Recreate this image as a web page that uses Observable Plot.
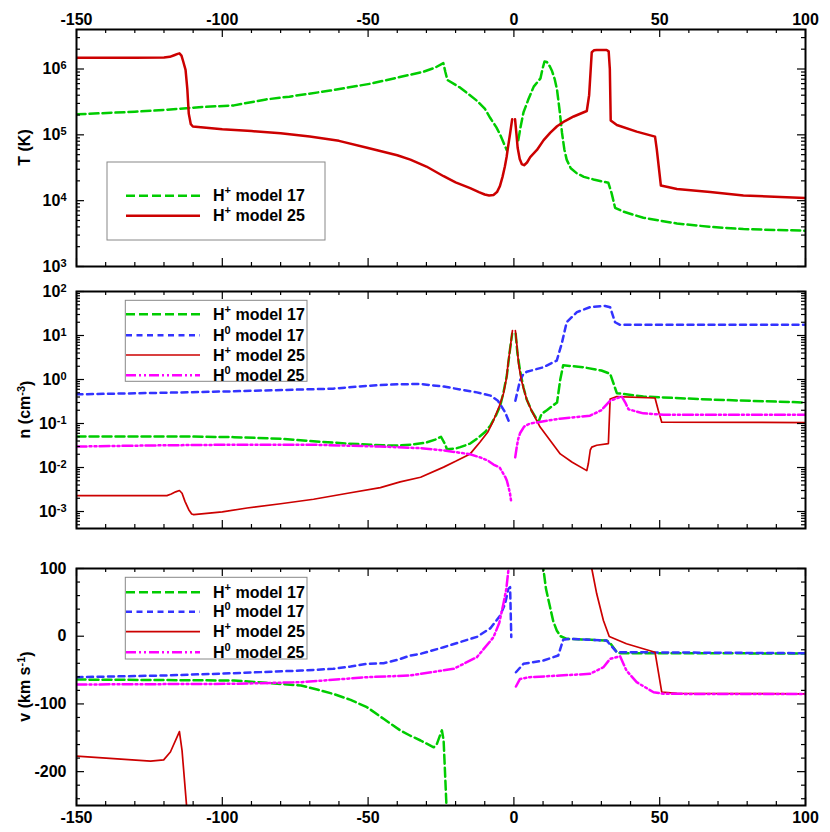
<!DOCTYPE html>
<html><head><meta charset="utf-8">
<script src="https://cdn.jsdelivr.net/npm/d3@7"></script>
<script src="https://cdn.jsdelivr.net/npm/@observablehq/plot@0.6"></script>
<style>body{margin:0;background:#fff} #chart svg{display:block}</style>
</head><body><div id="chart"></div>
<script>
// ---------- data (x = distance, y = value; [0, NaN] marks a gap) ----------
const T_HP17 = [[-150,2.05e5],[-130,2.24e5],[-119,2.4e5],[-108,2.63e5],[-96,2.8e5],[-85,3.45e5],[-77,3.8e5],[-63,4.7e5],[-49,6.0e5],[-40,7.4e5],[-31,9.1e5],[-27,1.05e6],[-24.2,1.23e6],[-23.5,9e5],[-22.8,6.8e5],[-18.4,5.2e5],[-12.7,3.3e5],[-10,2.5e5],[-8.1,1.8e5],[-6,1.3e5],[-4.7,1.0e5],[-3.5,7.5e4],[-2.4,5.8e4],[0,NaN],[1.5,8.3e4],[2.4,1.4e5],[3.3,2.2e5],[4.9,3.4e5],[6.8,5.4e5],[9.1,7.2e5],[9.8,1.0e6],[10.5,1.3e6],[11.3,1.28e6],[12.3,1.1e6],[13.0,9.5e5],[14,7e5],[14.8,4.8e5],[15.7,2.3e5],[16.5,1.07e5],[17.3,6e4],[18.1,4.2e4],[19.5,3.1e4],[21.6,2.6e4],[24,2.3e4],[27.3,2.1e4],[32.4,1.87e4],[33.5,1.3e4],[34.7,7.8e3],[37.6,6.8e3],[44.4,5.5e3],[55.9,4.5e3],[67.3,4.0e3],[78.7,3.7e3],[100,3.5e3]];
const T_HP25 = [[-150,1.48e6],[-130,1.48e6],[-120,1.49e6],[-118,1.53e6],[-116.5,1.62e6],[-115.3,1.70e6],[-114.7,1.73e6],[-114,1.6e6],[-113.4,1.3e6],[-112.6,9.7e5],[-112,5e5],[-111.5,2.1e5],[-110.8,1.45e5],[-110.1,1.34e5],[-100,1.22e5],[-90,1.14e5],[-80,1.06e5],[-70,9.4e4],[-60,8.1e4],[-50,6.3e4],[-40,4.9e4],[-35.5,4.2e4],[-30,3.3e4],[-24.1,2.35e4],[-20,1.9e4],[-15,1.55e4],[-12,1.35e4],[-10,1.24e4],[-8.5,1.2e4],[-7,1.22e4],[-5.8,1.35e4],[-4.8,1.66e4],[-3.9,2.3e4],[-3.1,3.3e4],[-2.5,4.6e4],[-2,6.6e4],[-1.3,1.05e5],[-0.6,1.72e5],[0,NaN],[0.4,1.72e5],[0.9,1.0e5],[1.3,6.3e4],[2,4.3e4],[2.7,3.6e4],[3.5,3.45e4],[4.5,3.8e4],[5.6,4.6e4],[7.9,5.9e4],[10.2,8.3e4],[12.5,1.08e5],[14.8,1.35e5],[17.5,1.62e5],[20.5,1.9e5],[25.0,2.3e5],[25.8,4e5],[26.7,1.8e6],[27.5,1.92e6],[28.4,1.95e6],[31.8,1.94e6],[32.5,1.85e6],[32.9,1.0e6],[33.2,1.65e5],[35.3,1.41e5],[42.1,1.12e5],[48.4,9.4e4],[49.0,6.0e4],[50.4,1.7e4],[55.9,1.5e4],[67.3,1.35e4],[78.7,1.2e4],[100,1.1e4]];

const N_HP17 = [[-150,0.051],[-116,0.051],[-96,0.049],[-80,0.045],[-70,0.040],[-57,0.035],[-45,0.032],[-40,0.0315],[-35,0.033],[-30,0.037],[-27,0.043],[-25,0.05],[-23.5,0.033],[-23,0.026],[-20,0.027],[-18.4,0.029],[-15,0.035],[-12.7,0.045],[-10,0.063],[-8.1,0.089],[-6,0.16],[-4.7,0.25],[-3.6,0.5],[-2.4,1.26],[-1.5,4],[-0.6,11],[0,NaN],[0.6,11],[1.2,4],[2.1,1.6],[3.3,0.65],[4.4,0.35],[6,0.2],[8.4,0.107],[9.5,0.166],[11.3,0.2],[13.5,0.26],[14.8,0.3],[15.9,1.0],[16.9,2.1],[23.8,1.9],[30,1.6],[33,1.35],[34.2,0.8],[35.3,0.49],[44.4,0.41],[67.3,0.35],[100,0.30]];
const N_H017 = [[-150,0.46],[-120,0.50],[-96,0.54],[-62,0.62],[-50,0.72],[-40,0.78],[-32,0.79],[-24,0.69],[-12.7,0.51],[-8,0.43],[-5.5,0.33],[-3.0,0.18],[-1.3,0.095],[0,NaN],[0.5,0.33],[2.1,0.95],[3.3,1.35],[4.4,1.5],[10.1,1.9],[14.7,2.7],[16.4,6.5],[18.1,20],[21.6,34],[26.1,44],[31.3,47],[33.0,44],[34.7,20],[36.4,17.5],[100,17.5]];
const N_HP25 = [[-150,0.0023],[-119,0.0023],[-117.5,0.0025],[-116,0.0028],[-114.7,0.003],[-113.8,0.0026],[-112.8,0.0017],[-111.5,0.0011],[-110.5,0.00088],[-109.8,0.00085],[-100,0.00098],[-91.5,0.0012],[-80,0.0015],[-68.7,0.0019],[-57,0.0026],[-45.8,0.0035],[-39,0.0047],[-32,0.006],[-24.1,0.0102],[-20,0.0138],[-15,0.0204],[-11.6,0.038],[-9,0.063],[-7,0.117],[-5,0.25],[-3.6,0.47],[-2.5,1.1],[-2,2.3],[-1.3,5],[-0.5,13],[0,NaN],[0.5,13],[1,6.3],[1.6,2.3],[2.5,1.0],[3.3,0.63],[4.4,0.35],[6,0.2],[9,0.083],[12,0.045],[15.9,0.0204],[20,0.0132],[25,0.0085],[25.5,0.012],[26.2,0.025],[26.7,0.029],[28.4,0.032],[32.4,0.035],[33,0.36],[35.3,0.41],[48.4,0.38],[49.5,0.2],[50.7,0.107],[100,0.105]];
const N_H025 = [[-150,0.030],[-120,0.032],[-96,0.033],[-69,0.033],[-46,0.030],[-32,0.0275],[-24,0.0245],[-15,0.020],[-11.6,0.017],[-9,0.0145],[-7,0.0117],[-5.5,0.0105],[-4.8,0.0098],[-3.6,0.0072],[-2.8,0.0058],[-2.4,0.005],[-1.8,0.0035],[-1.3,0.0025],[-1.0,0.0018],[0,NaN],[0.45,0.017],[1,0.03],[1.5,0.045],[2.1,0.06],[3.5,0.085],[5.5,0.1],[15.8,0.129],[26.1,0.151],[30,0.2],[33,0.33],[37,0.41],[38.2,0.3],[39.3,0.21],[44.4,0.17],[51.3,0.158],[100,0.158]];

const V_HP17 = [[-150,-64],[-96,-65.4],[-85,-68.9],[-73,-72.8],[-67.5,-78.7],[-62,-85.1],[-56,-94],[-50.4,-104.8],[-44.7,-122],[-39,-139],[-35.5,-147],[-32,-154],[-27.5,-164],[-26.4,-159],[-24.7,-139],[-24.1,-154],[-23.2,-243],[-22.8,-300],[0,NaN],[9.5,130],[10.1,100],[11,70],[12.4,43],[13.5,22],[14.7,8.4],[16,0],[18.1,-3.9],[25,-5],[31.8,-6.4],[33,-10],[35.3,-23.6],[36.5,-25],[100,-25.5]];
const V_H017 = [[-150,-60.5],[-120,-58],[-96,-54.6],[-73,-50.7],[-62,-48.2],[-56,-44.8],[-50.4,-40.8],[-44.7,-39.9],[-40,-35],[-35.5,-28.5],[-32,-26],[-24.1,-16.2],[-12.7,-1],[-8,12],[-4.7,30.6],[-3,48],[-1.9,70],[-1.3,72.4],[-0.9,-1],[0,NaN],[0.7,-53.2],[3.3,-40.8],[10.1,-35.9],[15.2,-28.5],[16.9,-5.3],[19.3,-3.9],[31.8,-6.4],[35.3,-23.6],[100,-25.1]];
const V_HP25 = [[-150,-177],[-136,-181],[-124.6,-184.6],[-120.1,-182.6],[-117.8,-171],[-114.7,-140.8],[-113.8,-169],[-112.3,-247.6],[-111.8,-300],[0,NaN],[26,140],[26.7,100],[28.4,62.6],[30.7,23.2],[32.7,-0.4],[38.6,-11.2],[48.4,-23.6],[50.7,-82.7],[55.9,-84.2],[100,-85.1]];
const V_H025 = [[-150,-71.3],[-96,-70.3],[-73,-67.9],[-50.4,-60.5],[-35.5,-58],[-20.7,-48.2],[-12.7,-31],[-7,-1.5],[-5,20],[-3.6,47.8],[-2.6,70],[-1.9,97],[-1.5,130],[0,NaN],[0.7,-74.3],[2.1,-63],[5.5,-60.5],[15.8,-58],[26.1,-55.6],[30.7,-45.8],[33,-33.4],[36.4,-29.5],[38.6,-50.7],[42.1,-67.9],[47.9,-82.7],[51.3,-85.1],[100,-85.5]];

// ---------- ticks & labels ----------
const X_DOMAIN = [-150, 100];
const X_MAJOR = [-150, -100, -50, 0, 50, 100];
const X_MINOR = [-140,-130,-120,-110,-90,-80,-70,-60,-40,-30,-20,-10,10,20,30,40,60,70,80,90];
const T_MAJOR = [1e3, 1e4, 1e5, 1e6];
const N_MAJOR = [1e-3, 1e-2, 1e-1, 1e0, 1e1, 1e2];
const V_MAJOR = [-200, -100, 0, 100];
const V_MINOR = [-240,-220,-180,-160,-140,-120,-80,-60,-40,-20,20,40,60,80];
const SERIES = {
  HP17: {base: "H", sup: "+", rest: " model 17", stroke: "#00cc00", dash: "9,4", width: 2.5},
  H017: {base: "H", sup: "0", rest: " model 17", stroke: "#3333ff", dash: "6,4.5", width: 2.5},
  HP25: {base: "H", sup: "+", rest: " model 25", stroke: "#cc0000", dash: null, width: 1.7},
  H025: {base: "H", sup: "0", rest: " model 25", stroke: "#ff00ff", dash: "10,3,2,3,2,3", width: 2.5}
};

function logMinor(domain) {
  const out = [];
  const lo = Math.floor(Math.log10(domain[0])), hi = Math.ceil(Math.log10(domain[1]));
  for (let e = lo; e <= hi; e++) for (let m = 2; m <= 9; m++) {
    const v = m * 10 ** e;
    if (v > domain[0] && v < domain[1]) out.push(v);
  }
  return out;
}

const FONT = "'Liberation Sans', Arial, Helvetica, sans-serif";
const W = 830, ML = 76, MR = 25;
const FW = W - ML - MR;

// inward ticks: full-frame rules trimmed by insets to the wanted length
function axes({fh, yMajor, yMinor, yFormat, xLabels}) {
  const m = [];
  for (const [vals, len] of [[X_MAJOR, 8], [X_MINOR, 4]]) {
    m.push(Plot.ruleX(vals, {x: d => d, insetTop: fh - len, strokeWidth: 1.2}));
    m.push(Plot.ruleX(vals, {x: d => d, insetBottom: fh - len, strokeWidth: 1.2}));
  }
  for (const [vals, len] of [[yMajor, 8], [yMinor, 4]]) {
    m.push(Plot.ruleY(vals, {y: d => d, insetRight: FW - len, strokeWidth: 1.2}));
    m.push(Plot.ruleY(vals, {y: d => d, insetLeft: FW - len, strokeWidth: 1.2}));
  }
  if (xLabels) m.push(Plot.axisX(X_MAJOR, {anchor: xLabels, tickSize: 0, tickPadding: xLabels === "top" ? 5 : 6, tickFormat: d => String(d), label: null}));
  m.push(Plot.axisY(yMajor, {anchor: "left", tickSize: 0, tickPadding: 10, tickFormat: yFormat, label: null}));
  m.push(Plot.frame({strokeWidth: 2}));
  return m;
}

function line(data, s, width) {
  return Plot.line(data, {x: d => d[0], y: d => d[1], stroke: s.stroke, strokeWidth: width ?? s.width,
    strokeDasharray: s.dash ?? undefined, clip: true});
}

const pow10 = d => "10^" + Math.round(Math.log10(d));

function supTicks(svg) {
  svg.querySelectorAll('g[aria-label="y-axis tick label"] text').forEach(t => {
    const s = t.textContent;
    if (!s.includes("^")) return;
    const [b, e] = s.split("^");
    t.textContent = "";
    const sel = d3.select(t);
    sel.append("tspan").text(b);
    sel.append("tspan").attr("dy", "-0.45em").attr("font-size", 11).text(e);
  });
}

function yTitle(svg, cy, parts) {
  const t = d3.select(svg).append("text")
    .attr("transform", `translate(24,${cy}) rotate(-90)`)
    .attr("text-anchor", "middle").attr("dy", "0.35em")
    .attr("font-size", 16).attr("font-weight", "bold").attr("font-family", FONT);
  parts.forEach(p => {
    const ts = t.append("tspan").text(p.t);
    if (p.sup) ts.attr("dy", "-0.45em").attr("font-size", 11);
    if (p.after) ts.attr("dy", "0.45em");
  });
}

function legend(svg, box, rows, keys, widths = {}) {
  const g = d3.select(svg).append("g").attr("font-family", FONT).attr("font-weight", "bold")
    .attr("font-size", 16).attr("text-anchor", "start");
  g.append("rect").attr("x", box[0]).attr("y", box[1]).attr("width", box[2]).attr("height", box[3])
    .attr("fill", "white").attr("stroke", "#888").attr("stroke-width", 1);
  keys.forEach((k, i) => {
    const s = SERIES[k], y = rows[i];
    g.append("line").attr("x1", 126).attr("x2", 200).attr("y1", y).attr("y2", y)
      .attr("stroke", s.stroke).attr("stroke-width", widths[k] ?? s.width)
      .attr("stroke-dasharray", s.dash);
    const t = g.append("text").attr("x", 213).attr("y", y).attr("dy", "0.36em").attr("text-anchor", "start");
    t.append("tspan").text(s.base);
    t.append("tspan").attr("dy", -7).attr("font-size", 11).text(s.sup);
    t.append("tspan").attr("dy", 7).text(s.rest);
  });
}

const style = {fontFamily: FONT, fontSize: "16px", fontWeight: "bold", color: "#000", background: "#fff"};
const base = {width: W, marginLeft: ML, marginRight: MR, style, x: {domain: X_DOMAIN, axis: null}};
const chart = document.getElementById("chart");

// ---------- panel 1: temperature ----------
const T_DOMAIN = [1e3, 10 ** 6.6];
const p1 = Plot.plot({...base, height: 280, marginTop: 29, marginBottom: 14,
  y: {type: "log", domain: T_DOMAIN, axis: null},
  marks: [
    line(T_HP17, SERIES.HP17),
    line(T_HP25, SERIES.HP25, 2.5),
    ...axes({fh: 280 - 29 - 14, yMajor: T_MAJOR, yMinor: logMinor(T_DOMAIN), yFormat: pow10, xLabels: "top"})
  ]});
supTicks(p1);
yTitle(p1, 147.5, [{t: "T (K)"}]);
legend(p1, [107, 162, 218, 78], [195.7, 215.7], ["HP17", "HP25"], {HP25: 2.5});
chart.appendChild(p1);

// ---------- panel 2: density ----------
const N_DOMAIN = [10 ** -3.386, 1e2];
const p2 = Plot.plot({...base, height: 260, marginTop: 11, marginBottom: 12,
  y: {type: "log", domain: N_DOMAIN, axis: null},
  marks: [
    line(N_HP17, SERIES.HP17),
    line(N_H017, SERIES.H017),
    line(N_HP25, SERIES.HP25),
    line(N_H025, SERIES.H025),
    ...axes({fh: 260 - 11 - 12, yMajor: N_MAJOR, yMinor: logMinor(N_DOMAIN), yFormat: pow10})
  ]});
supTicks(p2);
yTitle(p2, 129.5, [{t: "n (cm"}, {t: "-3", sup: true}, {t: ")", after: true}]);
legend(p2, [125.3, 20.3, 181.7, 81], [34.3, 55.3, 75, 95.3], ["HP17", "H017", "HP25", "H025"]);
chart.appendChild(p2);

// ---------- panel 3: velocity ----------
const p3 = Plot.plot({...base, height: 292, marginTop: 28, marginBottom: 27,
  y: {domain: [-250, 100], axis: null},
  marks: [
    line(V_HP17, SERIES.HP17),
    line(V_H017, SERIES.H017),
    line(V_HP25, SERIES.HP25),
    line(V_H025, SERIES.H025),
    ...axes({fh: 292 - 28 - 27, yMajor: V_MAJOR, yMinor: V_MINOR, yFormat: d => String(d), xLabels: "bottom"})
  ]});
yTitle(p3, 146.5, [{t: "v (km s"}, {t: "-1", sup: true}, {t: ")", after: true}]);
legend(p3, [125.3, 37.3, 181.7, 81.7], [52.3, 71.7, 91.7, 112.3], ["HP17", "H017", "HP25", "H025"]);
chart.appendChild(p3);
</script></body></html>
